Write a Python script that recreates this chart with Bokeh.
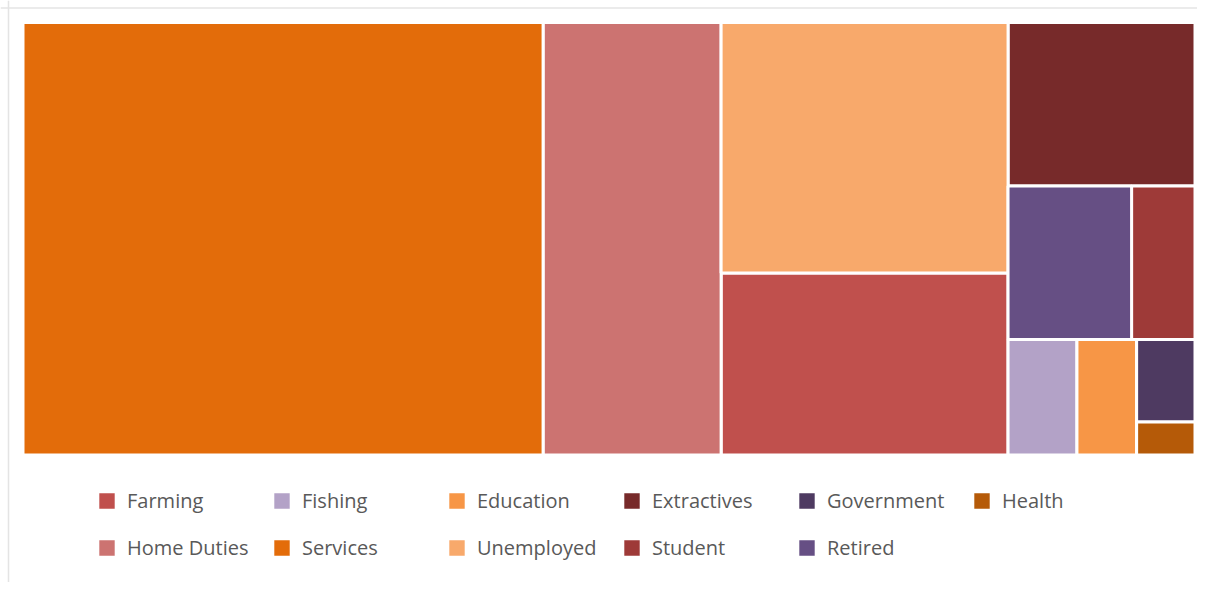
from bokeh.plotting import figure
from bokeh.models import Range1d, Legend, LegendItem, ColumnDataSource, Span
from bokeh.embed import file_html
from bokeh.resources import INLINE

# ---- data (share of people by occupation group, %) ----
categories = ["Farming", "Fishing", "Education", "Extractives", "Government", "Health",
              "Home Duties", "Services", "Unemployed", "Student", "Retired"]
values = [10.30, 1.57, 1.36, 6.03, 0.95, 0.38, 15.19, 44.37, 14.18, 1.92, 3.74]
colors = ["#C0504D", "#B3A2C7", "#F79646", "#772A2A", "#4E3A61", "#B55A08",
          "#CC7371", "#E36C0A", "#F8A96B", "#9E3A38", "#664F84"]

# treemap nesting (h = split horizontally, v = split vertically)
TREE = ("h", ["Services", "Home Duties",
              ("v", ["Unemployed", "Farming"]),
              ("v", ["Extractives",
                     ("h", ["Retired", "Student"]),
                     ("h", ["Fishing", "Education", ("v", ["Government", "Health"])])])])

val = dict(zip(categories, values))


def total(node):
    if isinstance(node, str):
        return val[node]
    return sum(total(c) for c in node[1])


def layout(node, x0, y0, x1, y1, out):
    if isinstance(node, str):
        out[node] = (x0, y0, x1, y1)
        return
    d, children = node
    s = sum(total(c) for c in children)
    pos = x0 if d == "h" else y0
    span = (x1 - x0) if d == "h" else (y1 - y0)
    for c in children:
        step = span * total(c) / s
        if d == "h":
            layout(c, pos, y0, pos + step, y1, out)
        else:
            layout(c, x0, pos, x1, pos + step, out)
        pos += step


# plot area in screen pixel coordinates (y downward)
BOX = (22.5, 22.0, 1194.5, 454.5)
rects = {}
layout(TREE, *BOX, rects)

src = ColumnDataSource(dict(
    cat=categories,
    value=values,
    color=colors,
    left=[rects[c][0] for c in categories],
    right=[rects[c][2] for c in categories],
    top=[rects[c][1] for c in categories],
    bottom=[rects[c][3] for c in categories],
))

W, H = 1197, 582
p = figure(width=W, height=H, output_backend="svg", toolbar_location=None,
           x_range=Range1d(0, W), y_range=Range1d(H, 0),
           x_axis_location=None, y_axis_location=None, min_border=0)
p.grid.visible = False
p.outline_line_color = None
p.background_fill_color = "white"
p.border_fill_color = "white"

r = p.quad(left="left", right="right", top="top", bottom="bottom", source=src,
           fill_color="color", line_color="white", line_width=3)

p.add_layout(Span(location=7.5, dimension="width", line_color="#e4e4e4", line_width=1.5))
p.add_layout(Span(location=8.0, dimension="height", line_color="#e4e4e4", line_width=1.5))

legend = Legend(
    items=[LegendItem(label=c, renderers=[r], index=i) for i, c in enumerate(categories)],
    orientation="horizontal", ncols=6, location=(95, 21),
    glyph_width=23, glyph_height=23, label_standoff=9, label_width=123,
    label_height=23, spacing=20, padding=0, margin=0,
    border_line_color=None, background_fill_alpha=0,
    label_text_font="Open Sans", label_text_font_size="20px", label_text_color="#595959",
)
p.add_layout(legend)

open("out.html", "w").write(file_html(p, INLINE))
